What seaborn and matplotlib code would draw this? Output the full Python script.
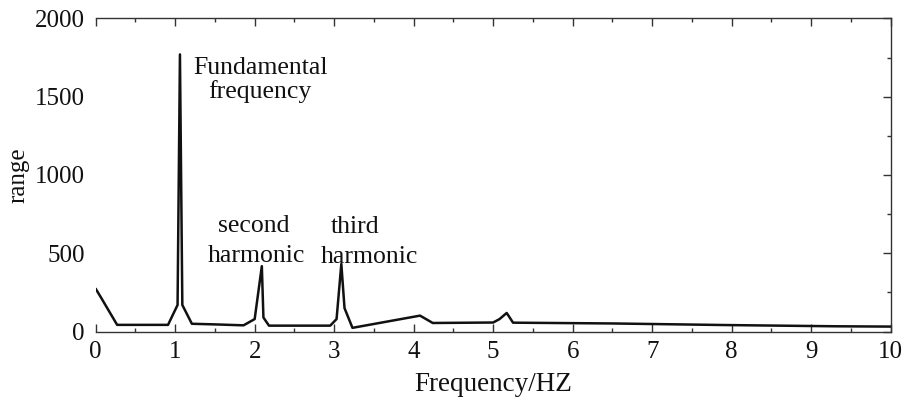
import matplotlib
matplotlib.use("Agg")
import matplotlib.pyplot as plt
import seaborn as sns
import pandas as pd
from matplotlib.ticker import MultipleLocator

sns.set_style("ticks")
plt.rcParams['font.family'] = ['Liberation Serif', 'DejaVu Serif']

freq = [0.0, 0.07, 0.27, 0.91, 1.03, 1.06, 1.09, 1.21, 1.5, 1.86, 2.0, 2.09, 2.11, 2.18,
        2.95, 3.03, 3.09, 3.13, 3.23, 4.08, 4.24, 5.0, 5.08, 5.17, 5.25, 6.5, 7.2, 7.9,
        8.6, 9.3, 10.0]
amp = [274, 215, 43, 43, 170, 1770, 170, 50, 46, 40, 80, 418, 90, 38,
       38, 80, 432, 150, 24, 102, 55, 58, 80, 119, 57, 52, 47, 42,
       38, 34, 32]

annotations = [("Fundamental", 2.07, 1644), ("frequency", 2.07, 1491),
               ("second", 1.99, 638), ("harmonic", 2.02, 442),
               ("third", 3.26, 632), ("harmonic", 3.44, 438)]

df = pd.DataFrame({"Frequency/HZ": freq, "range": amp})

fig = plt.figure(figsize=(9.06, 4.0), dpi=100)
ax = fig.add_axes([0.1056, 0.171, 0.8775, 0.783])
sns.lineplot(data=df, x="Frequency/HZ", y="range", ax=ax, color="#111111",
             linewidth=1.8, estimator=None, sort=False)

ax.set_xlim(0, 10)
ax.set_ylim(0, 2000)
ax.xaxis.set_major_locator(MultipleLocator(1))
ax.xaxis.set_minor_locator(MultipleLocator(0.5))
ax.yaxis.set_major_locator(MultipleLocator(500))
ax.yaxis.set_minor_locator(MultipleLocator(250))
ax.tick_params(which='both', direction='in', top=True, right=True, left=False,
               color='#333333', width=1.0, labelsize=18, labelcolor='#111111')
ax.tick_params(axis='x', pad=7)
ax.tick_params(axis='y', pad=8)
ax.tick_params(which='major', length=6)
ax.tick_params(which='minor', length=3)
for s in ax.spines.values():
    s.set_visible(True)
    s.set_color('#333333')
    s.set_linewidth(1.0)
ax.spines['left'].set_visible(False)

ax.set_xlabel("Frequency/HZ", fontsize=19.5, color='#111111', labelpad=6)
ax.set_ylabel("range", fontsize=18, color='#111111', labelpad=4)

for txt, x, y in annotations:
    ax.text(x, y, txt, fontsize=18.5, ha='center', va='baseline', color='#111111')

fig.savefig("out.png", dpi=100, facecolor='white')
